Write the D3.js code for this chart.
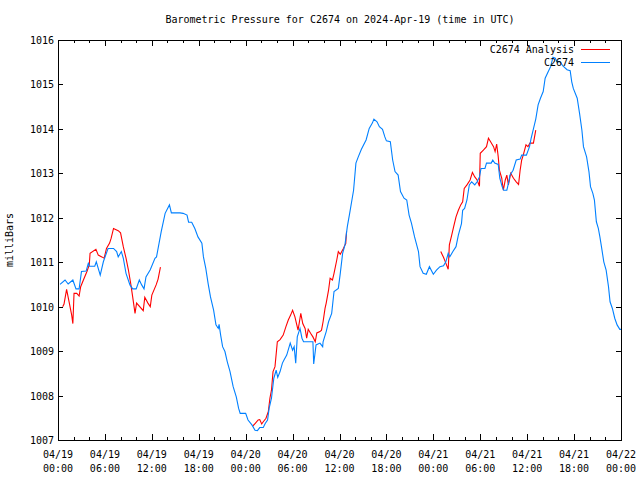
<!DOCTYPE html>
<html><head><meta charset="utf-8">
<script src="https://cdn.jsdelivr.net/npm/d3@7"></script>
<style>
body{margin:0;background:#fff;}
text{font-family:"DejaVu Sans Mono","Liberation Mono",monospace;font-size:10px;fill:#000;}
</style></head>
<body><svg id="c" width="640" height="480"></svg>
<script>
const titleText = "Barometric Pressure for C2674 on 2024-Apr-19 (time in UTC)";
const yLabel = "milliBars";
const seriesNames = ["C2674 Analysis", "C2674"];
const seriesColors = ["#ff0000", "#0080ff"];
const yTicks = [1007,1008,1009,1010,1011,1012,1013,1014,1015,1016];
const xMajorHours = [0,6,12,18,24,30,36,42,48,54,60,66,72];
const xMinorHours = d3.range(0, 73, 2);
const xTickDates = ["04/19","04/19","04/19","04/19","04/20","04/20","04/20","04/20","04/21","04/21","04/21","04/21","04/22"];
const xTickTimes = ["00:00","06:00","12:00","18:00","00:00","06:00","12:00","18:00","00:00","06:00","12:00","18:00","00:00"];

// hours since 2024-04-19 00:00 UTC, pressure mb
const stationSeries = [[0.26,1010.50],[0.9,1010.60],[1.3,1010.51],[1.9,1010.60],[2.3,1010.40],[2.7,1010.40],[3.0,1010.79],[3.6,1010.80],[3.9,1010.99],[4.0,1010.91],[4.7,1010.91],[4.9,1011.01],[5.4,1010.71],[5.8,1011.01],[6.4,1011.31],[7.1,1011.31],[7.5,1011.24],[7.7,1011.12],[8.1,1011.24],[8.35,1011.09],[8.7,1010.75],[9.2,1010.49],[9.55,1010.40],[10.0,1010.40],[10.4,1010.60],[10.7,1010.49],[11.0,1010.40],[11.25,1010.67],[11.8,1010.83],[12.4,1011.09],[12.6,1011.12],[13.2,1011.69],[13.7,1012.10],[14.25,1012.29],[14.5,1012.11],[15.6,1012.11],[16.0,1012.10],[16.5,1012.06],[16.7,1011.90],[17.1,1011.90],[17.5,1011.76],[17.9,1011.57],[18.4,1011.43],[18.6,1011.12],[18.9,1010.86],[19.2,1010.52],[19.5,1010.22],[19.9,1009.92],[20.2,1009.59],[20.5,1009.51],[20.6,1009.60],[20.8,1009.36],[21.05,1009.10],[21.35,1008.99],[21.65,1008.76],[22.0,1008.54],[22.4,1008.20],[22.8,1007.97],[23.1,1007.71],[23.3,1007.60],[24.0,1007.60],[24.3,1007.45],[24.8,1007.34],[25.2,1007.22],[25.5,1007.21],[25.8,1007.28],[26.25,1007.28],[26.5,1007.37],[26.8,1007.45],[27.0,1007.71],[27.3,1007.94],[27.6,1008.39],[27.9,1008.57],[28.1,1008.41],[28.4,1008.54],[28.7,1008.73],[28.9,1008.80],[29.25,1008.91],[29.7,1009.18],[30.0,1009.02],[30.2,1009.10],[30.4,1008.73],[30.6,1009.32],[30.95,1009.51],[31.2,1009.29],[31.4,1009.21],[32.6,1009.21],[32.7,1008.71],[33.0,1009.14],[33.5,1009.18],[33.85,1009.10],[33.9,1009.21],[34.3,1009.44],[34.6,1009.66],[35.0,1009.85],[35.3,1010.34],[35.85,1010.41],[36.1,1010.75],[36.4,1011.20],[36.7,1011.39],[37.0,1011.80],[37.3,1012.10],[37.8,1012.62],[38.1,1013.23],[38.4,1013.37],[38.8,1013.54],[39.4,1013.75],[39.8,1014.01],[40.2,1014.13],[40.4,1014.22],[40.8,1014.16],[41.1,1014.05],[41.5,1013.99],[41.8,1013.82],[42.0,1013.73],[42.5,1013.71],[42.8,1013.30],[43.1,1013.04],[43.5,1012.96],[43.8,1012.59],[44.25,1012.44],[44.6,1012.40],[44.9,1012.06],[45.2,1011.88],[45.6,1011.57],[46.1,1011.24],[46.3,1010.90],[46.7,1010.75],[47.1,1010.73],[47.5,1010.90],[48.0,1010.73],[48.4,1010.82],[48.85,1010.90],[49.3,1010.92],[49.6,1011.01],[49.9,1011.20],[50.1,1011.12],[50.5,1011.24],[50.9,1011.35],[51.2,1011.61],[51.6,1011.87],[51.75,1012.17],[52.0,1012.21],[52.3,1012.40],[52.6,1012.74],[52.9,1012.81],[53.3,1012.74],[53.6,1012.81],[53.9,1012.92],[54.1,1013.11],[54.6,1013.11],[54.8,1013.23],[55.4,1013.23],[55.6,1013.30],[55.85,1013.23],[56.3,1013.20],[56.5,1012.89],[56.8,1012.70],[57.0,1012.62],[57.4,1012.62],[57.6,1012.77],[57.8,1012.96],[58.2,1013.07],[58.6,1013.30],[59.1,1013.32],[59.3,1013.41],[59.9,1013.41],[60.3,1013.60],[60.5,1013.78],[60.8,1014.00],[61.1,1014.22],[61.4,1014.54],[61.7,1014.69],[62.05,1014.84],[62.3,1015.14],[62.7,1015.29],[63.0,1015.40],[63.3,1015.61],[63.6,1015.59],[63.8,1015.51],[64.2,1015.51],[64.6,1015.41],[65.1,1015.33],[65.5,1015.31],[65.7,1015.06],[65.9,1014.91],[66.4,1014.69],[66.7,1014.35],[67.0,1013.97],[67.2,1013.60],[67.6,1013.37],[67.9,1013.04],[68.1,1012.70],[68.4,1012.55],[68.6,1012.40],[68.85,1011.91],[69.1,1011.76],[69.3,1011.57],[69.5,1011.35],[69.8,1011.01],[70.1,1010.82],[70.4,1010.45],[70.6,1010.11],[70.9,1009.96],[71.2,1009.74],[71.5,1009.59],[71.85,1009.49],[72.0,1009.49]];

const analysisPart1 = [[0.6,1010.00],[0.77,1010.06],[1.1,1010.39],[1.45,1010.08],[1.75,1009.81],[1.9,1009.62],[2.05,1010.30],[2.4,1010.30],[2.7,1010.24],[2.9,1010.45],[3.25,1010.60],[3.7,1010.79],[4.0,1010.94],[4.1,1011.20],[4.85,1011.29],[5.15,1011.16],[5.6,1011.12],[5.9,1011.09],[6.2,1011.31],[6.6,1011.43],[6.8,1011.54],[7.1,1011.76],[7.7,1011.71],[8.0,1011.66],[8.35,1011.35],[8.7,1011.09],[9.0,1010.83],[9.3,1010.52],[9.55,1010.22],[9.85,1009.85],[10.05,1010.08],[10.9,1009.91],[11.1,1010.21],[11.5,1010.08],[11.8,1010.00],[12.0,1010.26],[12.55,1010.49],[12.8,1010.62],[13.1,1010.89]];
const analysisPart2 = [[24.9,1007.31],[25.2,1007.37],[25.6,1007.45],[25.8,1007.46],[26.05,1007.36],[26.25,1007.41],[26.6,1007.49],[26.9,1007.64],[27.1,1007.94],[27.3,1008.12],[27.5,1008.54],[27.75,1008.65],[28.05,1009.21],[28.4,1009.26],[28.8,1009.36],[29.15,1009.55],[29.45,1009.70],[29.75,1009.81],[30.0,1009.92],[30.3,1009.77],[30.5,1009.62],[30.7,1009.47],[31.05,1009.85],[31.3,1009.62],[31.6,1009.51],[31.8,1009.29],[32.0,1009.49],[32.3,1009.40],[32.6,1009.32],[32.9,1009.21],[33.1,1009.41],[33.5,1009.44],[33.7,1009.47],[33.9,1009.66],[34.15,1009.96],[34.3,1010.08],[34.6,1010.37],[34.8,1010.64],[35.1,1010.60],[35.3,1010.75],[35.65,1011.05],[35.85,1011.24],[36.1,1011.18],[36.5,1011.31],[36.7,1011.39],[36.8,1011.42],[36.9,1011.69]];
const analysisPart3 = [[48.95,1011.24],[49.3,1011.11],[49.6,1010.98],[49.9,1010.84],[50.05,1011.39],[50.35,1011.61],[50.6,1011.80],[50.9,1012.02],[51.2,1012.17],[51.5,1012.29],[51.75,1012.36],[51.95,1012.66],[52.3,1012.74],[52.7,1012.85],[53.0,1013.02],[53.3,1012.92],[53.6,1012.85],[53.9,1012.71],[54.0,1013.45],[54.4,1013.52],[54.8,1013.60],[55.05,1013.79],[55.4,1013.69],[55.7,1013.60],[55.9,1013.49],[56.1,1013.66],[56.3,1013.37],[56.45,1013.07],[56.75,1012.89],[56.95,1012.62],[57.2,1012.85],[57.4,1012.96],[57.6,1012.74],[57.9,1013.00],[58.25,1012.89],[58.6,1012.81],[58.9,1012.75],[59.1,1013.07],[59.3,1013.30],[59.5,1013.41],[59.85,1013.64],[60.1,1013.60],[60.35,1013.68],[60.8,1013.68],[61.1,1013.97]];

const L = 58, R = 621, T = 40, B = 440;
const svg = d3.select("#c");
const x = d3.scaleLinear().domain([0,72]).range([L,R]);
const y = d3.scaleLinear().domain([1007,1016]).range([B,T]);

// title
svg.append("text").attr("x",340).attr("y",23).attr("text-anchor","middle").text(titleText);
// y label
svg.append("text").attr("transform","translate(13,240) rotate(-90)").attr("text-anchor","middle").text(yLabel);

// axes with inward ticks (mirrored)
const gT = svg.append("g").attr("shape-rendering","crispEdges");
gT.append("g").attr("transform",`translate(0,${B})`).call(d3.axisBottom(x).tickValues(xMinorHours).tickSize(-3).tickFormat(""));
gT.append("g").attr("transform",`translate(0,${B})`).call(d3.axisBottom(x).tickValues(xMajorHours).tickSize(-6).tickFormat(""));
gT.append("g").attr("transform",`translate(0,${T})`).call(d3.axisTop(x).tickValues(xMinorHours).tickSize(-3).tickFormat(""));
gT.append("g").attr("transform",`translate(0,${T})`).call(d3.axisTop(x).tickValues(xMajorHours).tickSize(-6).tickFormat(""));
gT.append("g").attr("transform",`translate(${L},0)`).call(d3.axisLeft(y).tickValues(yTicks).tickSize(-5).tickFormat(""));
gT.append("g").attr("transform",`translate(${R},0)`).call(d3.axisRight(y).tickValues(yTicks).tickSize(-5).tickFormat(""));
gT.selectAll(".domain").remove();
gT.selectAll("line").attr("stroke","#000");

// tick labels
svg.append("g").selectAll("text").data(yTicks).join("text")
  .attr("x",L-4).attr("y",d=>y(d)+4).attr("text-anchor","end").text(d=>d);
const xl = svg.append("g").selectAll("g").data(xMajorHours).join("g");
xl.append("text").attr("x",d=>x(d)).attr("y",B+18).attr("text-anchor","middle").text((d,i)=>xTickDates[i]);
xl.append("text").attr("x",d=>x(d)).attr("y",B+32).attr("text-anchor","middle").text((d,i)=>xTickTimes[i]);

// lines
const line = d3.line().x(d=>x(d[0])).y(d=>y(d[1]));
const lg = svg.append("g");
[analysisPart1, analysisPart2, analysisPart3].forEach(p=>{
  lg.append("path").attr("d",line(p)).attr("fill","none").attr("stroke",seriesColors[0]).attr("stroke-width",1.1);
});
lg.append("path").attr("d",line(stationSeries)).attr("fill","none").attr("stroke",seriesColors[1]).attr("stroke-width",1.1);

// legend
const leg = svg.append("g");
seriesNames.forEach((n,i)=>{
  const ly = 49 + i*13;
  leg.append("text").attr("x",574).attr("y",ly+4).attr("text-anchor","end").text(n);
  leg.append("line").attr("x1",581).attr("x2",610).attr("y1",ly).attr("y2",ly)
    .attr("stroke",seriesColors[i]).attr("stroke-width",1).attr("shape-rendering","crispEdges");
});

// border
svg.append("rect").attr("x",L).attr("y",T).attr("width",R-L).attr("height",B-T)
  .attr("fill","none").attr("stroke","#000").attr("shape-rendering","crispEdges");
</script></body></html>
